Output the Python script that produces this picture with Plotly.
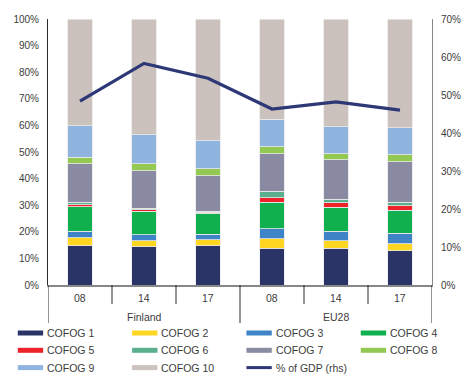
import plotly.graph_objects as go

# Categories
groups = ["Finland", "Finland", "Finland", "EU28", "EU28", "EU28"]
years = ["08", "14", "17", "08", "14", "17"]

# Expenditure shares by COFOG function (% of total)
cofog1 = [14.7, 14.3, 14.7, 13.9, 13.9, 12.8]
cofog2 = [3.0, 2.4, 2.3, 3.4, 2.8, 2.7]
cofog3 = [2.5, 2.1, 2.1, 3.9, 3.5, 3.9]
cofog4 = [9.2, 8.9, 7.9, 10.0, 9.0, 8.7]
cofog5 = [0.7, 0.5, 0.3, 1.6, 1.7, 1.7]
cofog6 = [1.0, 0.6, 0.4, 2.4, 1.3, 1.3]
cofog7 = [14.5, 14.1, 13.4, 14.2, 14.8, 15.3]
cofog8 = [2.4, 2.7, 2.6, 2.5, 2.4, 2.5]
cofog9 = [11.9, 10.8, 10.6, 10.5, 10.1, 10.2]
cofog10 = [40.1, 43.6, 45.7, 37.6, 40.5, 40.9]

# Total expenditure, % of GDP (right axis)
gdp_share = [48.4, 58.3, 54.4, 46.3, 48.2, 46.0]

series_names = ["COFOG 1", "COFOG 2", "COFOG 3", "COFOG 4", "COFOG 5",
                "COFOG 6", "COFOG 7", "COFOG 8", "COFOG 9", "COFOG 10"]
series_values = [cofog1, cofog2, cofog3, cofog4, cofog5,
                 cofog6, cofog7, cofog8, cofog9, cofog10]
colors = ["#2B3467", "#FFD622", "#3E84C6", "#10B04F", "#EE2229",
          "#5BAE8E", "#8A8AA2", "#93C852", "#8FB4E0", "#CBC2BD"]
line_color = "#2E3877"
line_name = "% of GDP (rhs)"

x = list(range(len(years)))
font_family = "Liberation Sans, Arial, sans-serif"
text_color = "#3C3C3C"

fig = go.Figure()
for name, vals, col in zip(series_names, series_values, colors):
    fig.add_trace(go.Bar(
        x=x, y=vals, name=name, width=0.39,
        marker=dict(color=col, line=dict(color="#E8E8E8", width=0.8)),
        showlegend=False,
    ))

fig.add_trace(go.Scatter(
    x=x, y=gdp_share, name=line_name, yaxis="y2", mode="lines",
    line=dict(color=line_color, width=3.2), showlegend=False,
))

# Plot area in pixels
W, H = 473, 374
L, R, T, B = 48, 31, 19, 89
pw, ph = W - L - R, H - T - B


def px_x(p):
    return (p - L) / pw


def px_y(p):
    return (H - B - p) / ph


shapes = []
annotations = []

# Category dividers below the axis
n = len(years)
for i in range(n + 1):
    pos = i - 0.5
    is_group_edge = (i % 3 == 0)
    shapes.append(dict(
        type="line", xref="x", yref="paper", x0=pos, x1=pos,
        y0=0, y1=px_y(323 if is_group_edge else 304),
        line=dict(color="#2A2A2A", width=1),
    ))

# Year labels
for i, yr in enumerate(years):
    annotations.append(dict(
        x=i, y=px_y(298), xref="x", yref="paper", text=yr, showarrow=False,
        font=dict(family=font_family, size=10.5, color=text_color),
        xanchor="center", yanchor="middle",
    ))

# Group labels
seen = []
for i, g in enumerate(groups):
    if g in seen:
        continue
    seen.append(g)
    idx = [j for j, gg in enumerate(groups) if gg == g]
    annotations.append(dict(
        x=sum(idx) / len(idx), y=px_y(317), xref="x", yref="paper", text=g,
        showarrow=False,
        font=dict(family=font_family, size=10.5, color=text_color),
        xanchor="center", yanchor="middle",
    ))

# Legend drawn as swatches and labels
legend_items = [(nm, c, 5) for nm, c in zip(series_names, colors)] + [(line_name, line_color, 3)]
for k, (nm, c, thick) in enumerate(legend_items):
    row, colm = divmod(k, 4)
    x0 = 17 + colm * 117.3
    yc = 333.0 + row * 17.3
    shapes.append(dict(
        type="line", xref="paper", yref="paper",
        x0=px_x(x0), x1=px_x(x0 + 26), y0=px_y(yc), y1=px_y(yc),
        line=dict(color=c, width=thick),
    ))
    annotations.append(dict(
        x=px_x(x0 + 28), y=px_y(yc), xref="paper", yref="paper", text=nm,
        showarrow=False, xanchor="left", yanchor="middle",
        font=dict(family=font_family, size=10.5, color=text_color),
    ))

fig.update_layout(
    width=W, height=H,
    margin=dict(l=L, r=R, t=T, b=B),
    paper_bgcolor="white", plot_bgcolor="white",
    barmode="stack", bargap=0.6,
    font=dict(family=font_family, size=10, color=text_color),
    xaxis=dict(range=[-0.5, n - 0.5], showticklabels=False, showgrid=False,
               zeroline=False, showline=True, linecolor="#888888", linewidth=1.5,
               ticks=""),
    yaxis=dict(range=[0, 100], dtick=10, ticksuffix="%", showgrid=False,
               zeroline=False, showline=True, linecolor="#2A2A2A", linewidth=1,
               ticks="", ticklabelstandoff=6,
               tickfont=dict(family=font_family, size=10, color=text_color)),
    yaxis2=dict(range=[0, 70], dtick=10, ticksuffix="%", overlaying="y",
                side="right", showgrid=False, zeroline=False, showline=True,
                linecolor="#888888", linewidth=1, ticks="", ticklabelstandoff=6,
                tickfont=dict(family=font_family, size=10, color=text_color)),
    shapes=shapes, annotations=annotations,
    showlegend=False,
)

fig.write_html("out.html")
